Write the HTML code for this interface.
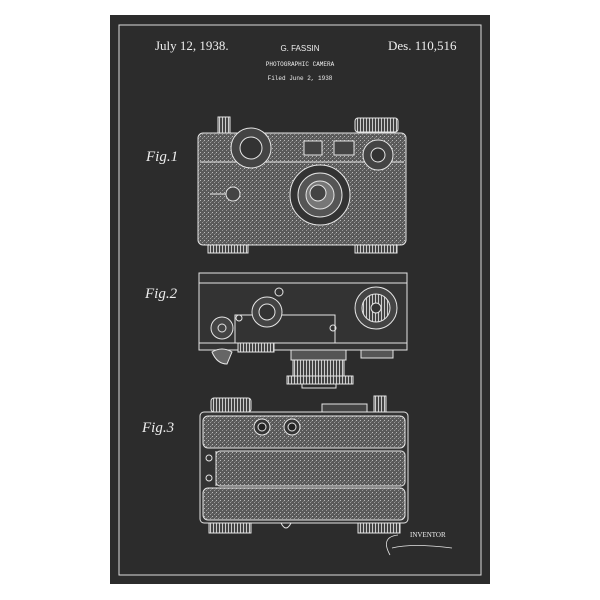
<!DOCTYPE html>
<html><head><meta charset="utf-8"><style>
html,body{margin:0;padding:0;background:#fff;width:600px;height:600px;overflow:hidden}
svg{display:block}
text{fill:#eee}
</style></head><body>
<svg width="600" height="600" viewBox="0 0 600 600" xmlns="http://www.w3.org/2000/svg">
<defs>
<pattern id="sp" width="4" height="4" patternUnits="userSpaceOnUse">
<rect width="4" height="4" fill="#5a5a5a"/><rect x="0" y="0" width="1" height="1" fill="#bbb"/><rect x="2" y="2" width="1" height="1" fill="#999"/><rect x="3" y="1" width="1" height="1" fill="#777"/>
</pattern>
<pattern id="rib" width="3" height="4" patternUnits="userSpaceOnUse">
<rect width="3" height="4" fill="#444"/><rect width="1" height="4" fill="#ccc"/>
</pattern>
</defs>
<rect x="110" y="15" width="380" height="569" fill="#2c2c2c"/>
<rect x="119" y="25" width="362" height="550" fill="none" stroke="#ddd" stroke-width="1"/>
<text x="155" y="50" font-family="Liberation Serif" font-size="13">July 12, 1938.</text>
<text x="388" y="50" font-family="Liberation Serif" font-size="13">Des. 110,516</text>
<text x="300" y="51" font-family="Liberation Sans" font-size="8" text-anchor="middle">G. FASSIN</text>
<text x="300" y="66" font-family="Liberation Mono" font-size="6" text-anchor="middle">PHOTOGRAPHIC CAMERA</text>
<text x="300" y="80" font-family="Liberation Mono" font-size="6" text-anchor="middle">Filed June 2, 1938</text>
<g font-family="Liberation Serif" font-style="italic" font-size="15" fill="#eee">
<text x="146" y="161">Fig.1</text><text x="145" y="298">Fig.2</text><text x="142" y="432">Fig.3</text>
</g>
<g stroke="#e5e5e5" stroke-width="1" fill="none">
<!-- Fig1 -->
<rect x="218" y="117" width="12" height="16" fill="url(#rib)"/>
<rect x="355" y="118" width="43" height="14" rx="3" fill="url(#rib)"/>
<rect x="198" y="133" width="208" height="112" rx="5" fill="url(#sp)"/>
<line x1="200" y1="162" x2="404" y2="162"/>
<circle cx="251" cy="148" r="20" fill="#444"/><circle cx="251" cy="148" r="11" fill="#333"/>
<rect x="304" y="141" width="18" height="14" fill="#444"/><rect x="334" y="141" width="20" height="14" fill="#444"/>
<circle cx="378" cy="155" r="15" fill="#444"/><circle cx="378" cy="155" r="7" fill="#333"/>
<circle cx="320" cy="195" r="30" fill="#333"/><circle cx="320" cy="195" r="22" fill="#555"/><circle cx="320" cy="195" r="14" fill="#777"/><circle cx="318" cy="193" r="8" fill="#444"/>
<circle cx="233" cy="194" r="7" fill="#444"/><line x1="210" y1="194" x2="226" y2="194"/>
<rect x="208" y="245" width="40" height="8" fill="url(#rib)"/><rect x="355" y="245" width="42" height="8" fill="url(#rib)"/>
<!-- Fig2 -->
<rect x="199" y="273" width="208" height="77" fill="#333"/>
<line x1="199" y1="283" x2="407" y2="283"/><line x1="199" y1="343" x2="407" y2="343"/>
<path d="M235 343 V315 h100 v28"/>
<circle cx="376" cy="308" r="21" fill="#444"/><circle cx="376" cy="308" r="14" fill="url(#rib)"/><circle cx="376" cy="308" r="5" fill="#333"/>
<circle cx="267" cy="312" r="15" fill="#444"/><circle cx="267" cy="312" r="8" fill="#333"/>
<circle cx="222" cy="328" r="11" fill="#444"/><circle cx="222" cy="328" r="4"/>
<circle cx="239" cy="318" r="3"/><circle cx="279" cy="292" r="4"/><circle cx="333" cy="328" r="3"/>
<rect x="238" y="343" width="36" height="9" fill="url(#rib)"/>
<path d="M212 352 q10 -6 20 0 l-5 12 q-10 0 -15 -12z" fill="#666"/>
<rect x="291" y="350" width="55" height="10" fill="#555"/>
<rect x="293" y="360" width="51" height="16" fill="url(#rib)"/>
<rect x="287" y="376" width="66" height="8" fill="url(#rib)"/>
<rect x="302" y="384" width="34" height="4"/>
<rect x="361" y="350" width="32" height="8" fill="#555"/>
<!-- Fig3 -->
<rect x="211" y="398" width="40" height="14" rx="3" fill="url(#rib)"/>
<rect x="322" y="404" width="45" height="8" fill="#444"/>
<rect x="374" y="396" width="12" height="16" fill="url(#rib)"/>
<rect x="200" y="412" width="208" height="111" rx="4" fill="#333"/>
<rect x="203" y="416" width="202" height="32" rx="5" fill="url(#sp)"/>
<rect x="216" y="451" width="189" height="35" rx="4" fill="url(#sp)"/>
<line x1="216" y1="451" x2="216" y2="486"/>
<circle cx="209" cy="458" r="3"/><circle cx="209" cy="478" r="3"/>
<rect x="203" y="488" width="202" height="32" rx="5" fill="url(#sp)"/>
<circle cx="262" cy="427" r="8" fill="#333"/><circle cx="262" cy="427" r="4" fill="#222"/>
<circle cx="292" cy="427" r="8" fill="#333"/><circle cx="292" cy="427" r="4" fill="#222"/>
<rect x="209" y="523" width="42" height="10" fill="url(#rib)"/><rect x="358" y="523" width="42" height="10" fill="url(#rib)"/>
<path d="M281 523 q5 10 10 0"/>
<path d="M390 555 q-10 -18 8 -20 M392 548 q20 -5 60 0" stroke-width="0.8"/>
</g>
<text x="410" y="537" font-family="Liberation Serif" font-size="7">INVENTOR</text>
</svg>
</body></html>
